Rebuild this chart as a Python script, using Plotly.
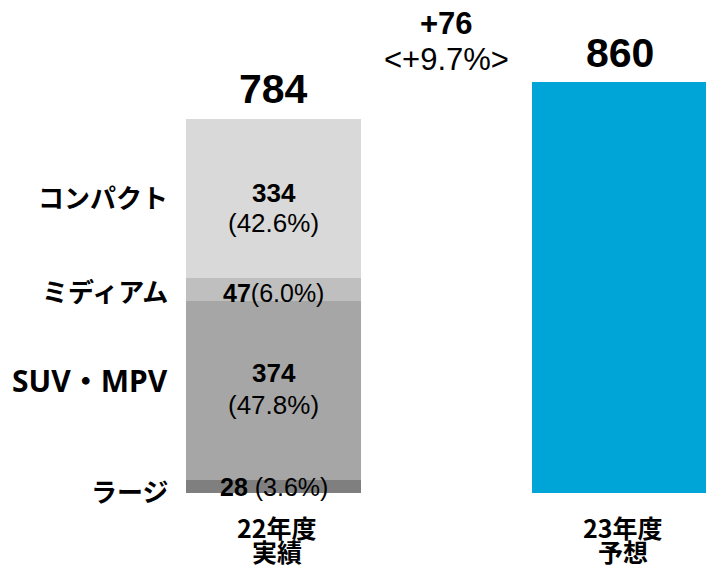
import plotly.graph_objects as go

categories = ["22年度", "23年度"]
cat_sub = ["実績", "予想"]
segments = ["ラージ", "SUV・MPV", "ミディアム", "コンパクト"]
seg_values = [28, 374, 47, 334]
seg_pct = ["3.6%", "47.8%", "6.0%", "42.6%"]
seg_colors = ["#7f7f7f", "#a6a6a6", "#bfbfbf", "#d9d9d9"]
total_22 = 784
total_23 = 860
diff_text = "+76"
diff_pct = "<+9.7%>"

JP = "Noto Sans CJK JP"
LAT = "Noto Sans, Noto Sans CJK JP"
NUM = "Liberation Sans, Arial"

W, H = 706, 567
BOTTOM = 74
PX_PER_UNIT = 0.478
CENTER0 = 273.5
SPACING = 346

fig = go.Figure()
for name, val, col in zip(segments, seg_values, seg_colors):
    fig.add_trace(go.Bar(x=[0], y=[val], marker=dict(color=col, line=dict(width=0)),
                         width=0.506, name=name, hoverinfo="skip"))
fig.add_trace(go.Bar(x=[1], y=[total_23], marker=dict(color="#00a5d7", line=dict(width=0)),
                     width=0.506, name="23", hoverinfo="skip"))

ann = []
cum = 0
centers = []
for v in seg_values:
    centers.append(cum + v / 2)
    cum += v

# left labels
label_shift = [-4, 10, -1, 2]
label_font = [(JP, 26), (LAT, 30), (JP, 26), (JP, 26)]
for name, c, s, (fam, sz) in zip(segments, centers, label_shift, label_font):
    ann.append(dict(x=170 / W, xref="paper", y=c, yref="y", text=f"<b>{name}</b>",
                    xanchor="right", yanchor="middle", showarrow=False, yshift=s,
                    font=dict(family=fam, size=sz, color="black")))

def lab(y, text, shift, size=26):
    ann.append(dict(x=0, y=y, text=text, showarrow=False, xanchor="center",
                    yanchor="middle", yshift=shift,
                    font=dict(family=NUM, size=size, color="black")))

lab(centers[0], f"<b>{seg_values[0]}</b> ({seg_pct[0]})", -1, 25)
lab(centers[1], f"<b>{seg_values[1]}</b>", 17)
lab(centers[1], f"({seg_pct[1]})", -15)
lab(centers[2], f"<b>{seg_values[2]}</b>({seg_pct[2]})", -3, 25)
lab(centers[3], f"<b>{seg_values[3]}</b>", 6)
lab(centers[3], f"({seg_pct[3]})", -24)

# totals
ann.append(dict(x=0, y=total_22, text=f"<b>{total_22}</b>", showarrow=False, xanchor="center",
                yanchor="bottom", yshift=4, font=dict(family=NUM, size=41, color="black")))
ann.append(dict(x=1, y=total_23, text=f"<b>{total_23}</b>", showarrow=False, xanchor="center",
                yanchor="bottom", yshift=4, font=dict(family=NUM, size=41, color="black")))

# diff
ann.append(dict(x=0.5, xref="x", y=1, yref="paper", text=f"<b>{diff_text}</b>", showarrow=False,
                xanchor="center", yanchor="middle", yshift=-23,
                font=dict(family=NUM, size=31, color="black")))
ann.append(dict(x=0.5, xref="x", y=1, yref="paper", text=diff_pct.replace("<", "&lt;").replace(">", "&gt;"),
                showarrow=False, xanchor="center", yanchor="middle", yshift=-59,
                font=dict(family=NUM, size=31, color="black")))

# category labels
for i, (c, s) in enumerate(zip(categories, cat_sub)):
    ann.append(dict(x=i, y=0, text=f"<b>{c}</b>", showarrow=False, xanchor="center",
                    yanchor="middle", yshift=-34, xshift=3, font=dict(family=JP, size=25, color="black")))
    ann.append(dict(x=i, y=0, text=f"<b>{s}</b>", showarrow=False, xanchor="center",
                    yanchor="middle", yshift=-58, xshift=3, font=dict(family=JP, size=25, color="black")))

plot_h = H - BOTTOM
fig.update_layout(
    width=W, height=H,
    margin=dict(l=0, r=0, t=0, b=BOTTOM, pad=0),
    barmode="stack",
    showlegend=False,
    plot_bgcolor="white", paper_bgcolor="white",
    xaxis=dict(range=[-CENTER0 / SPACING, (W - CENTER0) / SPACING], visible=False, fixedrange=True),
    yaxis=dict(range=[0, plot_h / PX_PER_UNIT], visible=False, fixedrange=True),
    annotations=ann,
)
fig.write_html("out.html", config={"displayModeBar": False},
               post_script="document.body.style.margin='0';document.body.style.overflow='hidden';")
